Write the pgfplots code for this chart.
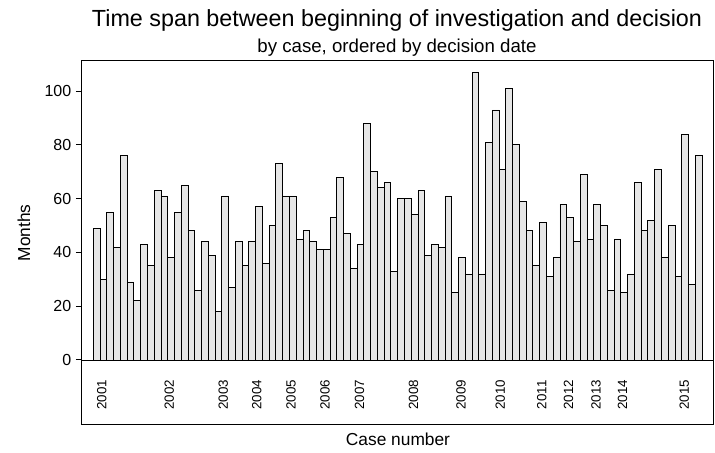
\documentclass[border=0pt]{standalone}
\usepackage{pgfplots}
\pgfplotsset{compat=1.18}
\usepackage{fontspec}
\setmainfont{Liberation Sans}

\definecolor{barfill}{HTML}{E6E6E6}

% months from beginning of investigation to decision, one value per case
\pgfplotstableread{
case months
1 49
2 30
3 55
4 42
5 76
6 29
7 22
8 43
9 35
10 63
11 61
12 38
13 55
14 65
15 48
16 26
17 44
18 39
19 18
20 61
21 27
22 44
23 35
24 44
25 57
26 36
27 50
28 73
29 61
30 61
31 45
32 48
33 44
34 41
35 41
36 53
37 68
38 47
39 34
40 43
41 88
42 70
43 64
44 66
45 33
46 60
47 60
48 54
49 63
50 39
51 43
52 42
53 61
54 25
55 38
56 32
57 107
58 32
59 81
60 93
61 71
62 101
63 80
64 59
65 48
66 35
67 51
68 31
69 38
70 58
71 53
72 44
73 69
74 45
75 58
76 50
77 26
78 45
79 25
80 32
81 66
82 48
83 52
84 71
85 38
86 50
87 31
88 84
89 28
90 76
}\spans

\newcommand\yearlabel[2]{%
  \node[rotate=90, anchor=center, font=\fontsize{10}{12}\selectfont]
      at (axis cs:#1,-13) {#2};}

\begin{document}
\begin{tikzpicture}
% page = 715x453 px at 0.75pt per px, frame corner at (0,0)
\useasboundingbox (-61.5pt,-21pt) rectangle (474.75pt,318.75pt);
\begin{axis}[
    at={(0,0)}, anchor=south west,
    scale only axis,
    width=473.25pt, height=273pt,
    xmin=-1.17, xmax=92.13,
    ymin=-24.2, ymax=111.2,
    xtick=\empty,
    ytick={0,20,40,60,80,100},
    ytick pos=left,
    tick align=outside,
    major tick length=4.5pt,
    tick style={black, line width=0.75pt},
    axis line style={black, line width=0.75pt},
    ticklabel style={font=\fontsize{12}{14}\selectfont},
    /pgf/number format/assume math mode=true,
    clip=false,
]
\draw[black, line width=0.6pt] (axis cs:-1.17,0) -- (axis cs:92.13,0);
\addplot[ybar, bar width=1, fill=barfill, draw=black, line width=0.6pt]
    table[x=case, y=months] {\spans};

% decision years
\yearlabel{1.74}{2001}
\yearlabel{11.74}{2002}
\yearlabel{19.73}{2003}
\yearlabel{24.67}{2004}
\yearlabel{29.75}{2005}
\yearlabel{34.78}{2006}
\yearlabel{39.85}{2007}
\yearlabel{47.84}{2008}
\yearlabel{54.89}{2009}
\yearlabel{60.66}{2010}
\yearlabel{66.8}{2011}
\yearlabel{70.77}{2012}
\yearlabel{74.82}{2013}
\yearlabel{78.75}{2014}
\yearlabel{87.88}{2015}
\end{axis}
\node[anchor=base, font=\fontsize{17.5}{20}\selectfont] at (236.25pt,298.5pt)
    {Time span between beginning of investigation and decision};
\node[anchor=base, font=\fontsize{14}{16}\selectfont] at (236.25pt,279pt)
    {by case, ordered by decision date};
\node[rotate=90, anchor=center, font=\fontsize{13}{15}\selectfont] at (-43.5pt,144pt)
    {Months};
\node[anchor=center, font=\fontsize{13}{15}\selectfont] at (237pt,-10.5pt)
    {Case number};
\end{tikzpicture}
\end{document}
